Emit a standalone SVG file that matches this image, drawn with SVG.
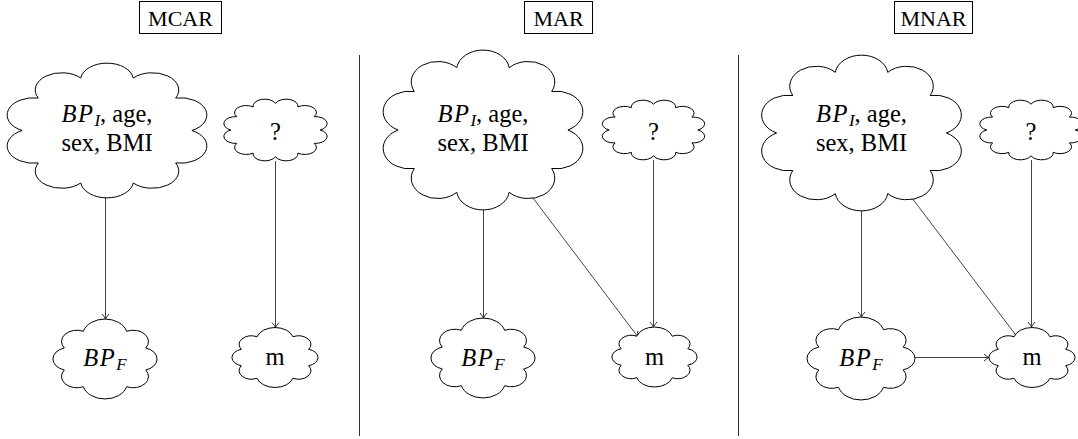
<svg xmlns="http://www.w3.org/2000/svg" xmlns:xlink="http://www.w3.org/1999/xlink" width="1078" height="439" viewBox="0 0 1078 439">
<style>
.cloud{fill:#fff;stroke:#000;stroke-width:1;vector-effect:non-scaling-stroke}
.t{font-family:"Liberation Serif","Times New Roman",serif;font-size:24.5px;fill:#000;text-anchor:middle}
.lbl{font-family:"Liberation Serif","Times New Roman",serif;font-size:22px;fill:#000;text-anchor:middle}
.box{fill:none;stroke:#000;stroke-width:1}
.edge{fill:none;stroke:#444;stroke-width:1;marker-end:url(#arr)}
.sep{stroke:#333;stroke-width:1}
.it{font-style:italic;letter-spacing:1.5px}
.sub{font-style:italic;font-size:17px}
</style>
<defs>
<marker id="arr" viewBox="-7 -5 8 10" refX="0" refY="0" markerWidth="8" markerHeight="10" markerUnits="userSpaceOnUse" orient="auto" overflow="visible">
<path d="M -5 -3.5 Q -2 -0.8 0 0 Q -2 0.8 -5 3.5" fill="none" stroke="#333" stroke-width="1"/>
</marker>
<path id="cloud10" class="cloud" d="M -0.309 -0.951 A 0.312 0.312 0 0 1 0.309 -0.951 A 0.312 0.312 0 0 1 0.809 -0.588 A 0.312 0.312 0 0 1 1 0 A 0.312 0.312 0 0 1 0.809 0.588 A 0.312 0.312 0 0 1 0.309 0.951 A 0.312 0.312 0 0 1 -0.309 0.951 A 0.312 0.312 0 0 1 -0.809 0.588 A 0.312 0.312 0 0 1 -1 0 A 0.312 0.312 0 0 1 -0.809 -0.588 A 0.312 0.312 0 0 1 -0.309 -0.951 Z"/>
<path id="cloud12" class="cloud" d="M 0 -1 A 0.262 0.262 0 0 1 0.5 -0.866 A 0.262 0.262 0 0 1 0.866 -0.5 A 0.262 0.262 0 0 1 1 0 A 0.262 0.262 0 0 1 0.866 0.5 A 0.262 0.262 0 0 1 0.5 0.866 A 0.262 0.262 0 0 1 0 1 A 0.262 0.262 0 0 1 -0.5 0.866 A 0.262 0.262 0 0 1 -0.866 0.5 A 0.262 0.262 0 0 1 -1 0 A 0.262 0.262 0 0 1 -0.866 -0.5 A 0.262 0.262 0 0 1 -0.5 -0.866 A 0.262 0.262 0 0 1 0 -1 Z"/>
<path id="cloud8" class="cloud" d="M -0.5 -0.866 A 0.518 0.518 0 0 1 0.5 -0.866 A 0.354 0.354 0 0 1 0.94 -0.342 A 0.354 0.354 0 0 1 0.94 0.342 A 0.354 0.354 0 0 1 0.5 0.866 A 0.518 0.518 0 0 1 -0.5 0.866 A 0.354 0.354 0 0 1 -0.94 0.342 A 0.354 0.354 0 0 1 -0.94 -0.342 A 0.354 0.354 0 0 1 -0.5 -0.866 Z"/>
</defs>
<rect width="1078" height="439" fill="#fff"/>

<g id="separators">
<line class="sep" x1="359.5" y1="55" x2="359.5" y2="436"/>
<line class="sep" x1="738.5" y1="55" x2="738.5" y2="436"/>
</g>

<g id="label-mcar"><rect class="box" x="139.5" y="1.5" width="82" height="32"/><text class="lbl" x="180.5" y="26">MCAR</text></g>
<g id="label-mar"><rect class="box" x="524.5" y="1.5" width="68" height="32"/><text class="lbl" x="558.5" y="26">MAR</text></g>
<g id="label-mnar"><rect class="box" x="894.5" y="1.5" width="78" height="32"/><text class="lbl" x="933.5" y="26">MNAR</text></g>

<g id="connectors">
<line class="edge" x1="105.5" y1="197" x2="105.5" y2="319"/>
<line class="edge" x1="275.5" y1="161" x2="275.5" y2="327.5"/>
<line class="edge" x1="483.5" y1="209" x2="483.5" y2="318"/>
<line class="edge" x1="653.5" y1="160" x2="653.5" y2="327"/>
<line class="edge" x1="533" y1="198" x2="638" y2="337"/>
<line class="edge" x1="861.5" y1="211" x2="861.5" y2="317"/>
<line class="edge" x1="1031.5" y1="160" x2="1031.5" y2="327"/>
<line class="edge" x1="912" y1="198" x2="1018" y2="338"/>
<line class="edge" x1="915" y1="357.5" x2="989" y2="357.5"/>
</g>

<g id="mcar-baseline">
<use xlink:href="#cloud10" transform="translate(107 130.5) scale(84.9 55.2)"/>
<text class="t" x="107" y="122"><tspan class="it">BP</tspan><tspan class="sub" dy="4">I</tspan><tspan dy="-4">, age,</tspan></text>
<text class="t" x="107" y="151">sex, BMI</text>
</g>
<g id="mcar-unknown">
<use xlink:href="#cloud12" transform="translate(275.5 130) scale(44.7 26.7)"/>
<text class="t" x="275.5" y="140">?</text>
</g>
<g id="mcar-bpf">
<use xlink:href="#cloud8" transform="translate(105 359) scale(43.3 32)"/>
<text class="t" x="105" y="366"><tspan class="it">BP</tspan><tspan class="sub" dy="4">F</tspan></text>
</g>
<g id="mcar-m">
<use xlink:href="#cloud8" transform="translate(275 357.5) scale(35.8 24)"/>
<text class="t" x="275" y="365">m</text>
</g>

<g id="mar-baseline">
<use xlink:href="#cloud10" transform="translate(483 130) scale(84.9 65.5)"/>
<text class="t" x="483" y="122"><tspan class="it">BP</tspan><tspan class="sub" dy="4">I</tspan><tspan dy="-4">, age,</tspan></text>
<text class="t" x="483" y="151">sex, BMI</text>
</g>
<g id="mar-unknown">
<use xlink:href="#cloud12" transform="translate(653.5 130) scale(44.3 25.8)"/>
<text class="t" x="653.5" y="140">?</text>
</g>
<g id="mar-bpf">
<use xlink:href="#cloud8" transform="translate(483 358) scale(43.3 32)"/>
<text class="t" x="483" y="366"><tspan class="it">BP</tspan><tspan class="sub" dy="4">F</tspan></text>
</g>
<g id="mar-m">
<use xlink:href="#cloud8" transform="translate(654.5 357) scale(35.4 24)"/>
<text class="t" x="654.5" y="365">m</text>
</g>

<g id="mnar-baseline">
<use xlink:href="#cloud10" transform="translate(861.5 133) scale(84.9 63.8)"/>
<text class="t" x="861.5" y="122"><tspan class="it">BP</tspan><tspan class="sub" dy="4">I</tspan><tspan dy="-4">, age,</tspan></text>
<text class="t" x="861.5" y="151">sex, BMI</text>
</g>
<g id="mnar-unknown">
<use xlink:href="#cloud12" transform="translate(1031 130) scale(44.3 25.8)"/>
<text class="t" x="1031" y="140">?</text>
</g>
<g id="mnar-bpf">
<use xlink:href="#cloud8" transform="translate(861 358.5) scale(44.9 33.2)"/>
<text class="t" x="861" y="366"><tspan class="it">BP</tspan><tspan class="sub" dy="4">F</tspan></text>
</g>
<g id="mnar-m">
<use xlink:href="#cloud8" transform="translate(1032 357.5) scale(35.8 24)"/>
<text class="t" x="1032" y="365">m</text>
</g>
</svg>
